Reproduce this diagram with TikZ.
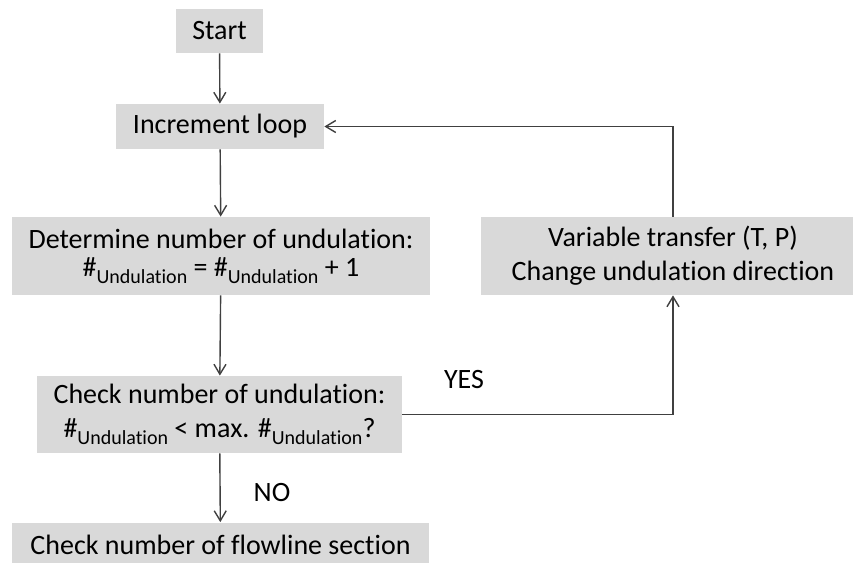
\documentclass[tikz,border=0pt]{standalone}
\usepackage{fontspec}
\setmainfont{Carlito}[Ligatures=NoCommon]
\usetikzlibrary{arrows.meta}
\definecolor{boxgray}{HTML}{D9D9D9}
\definecolor{linegray}{HTML}{404040}
\newcommand{\undsub}{\raisebox{-3.5pt}{\fontsize{10}{10}\selectfont Undulation}}
\tikzset{
  box/.style={fill=boxgray, inner sep=0pt, align=center, font=\fontsize{14}{17}\selectfont},
  line/.style={draw=linegray, line width=0.7pt},
  arr/.style={line, -{Straight Barb[length=5pt,width=6pt]}}
}
\begin{document}
\begin{tikzpicture}[x=0.5pt,y=-0.5pt]
\useasboundingbox (0,0) rectangle (853,563);
% boxes
\node[box, minimum width=43.5pt, minimum height=22pt] (start) at (219.5,31) {Start};
\node[box, minimum width=104pt, minimum height=22.5pt] (incr) at (220,126.5) {Increment loop};
\node[box, minimum width=209pt, minimum height=39pt, font=\fontsize{14}{14}\selectfont] (det) at (221,256)
  {Determine number of undulation:\\ \#\undsub{} = \#\undsub{}  + 1};
\node[box, minimum width=182.5pt, minimum height=38.5pt] (check) at (219.5,414.5)
  {Check number of undulation:\\ \#\undsub{} < max. \#\undsub?};
\node[box, minimum width=208.5pt, minimum height=22.5pt] (flow) at (220.5,545) {Check number of flowline section};
\node[box, minimum width=192pt, minimum height=39pt] (var) at (673,256)
  {Variable transfer (T, P)\\ Change undulation direction};
% connectors
\draw[arr] (start) -- (incr);
\draw[arr] (incr) -- (det);
\draw[arr] (det) -- (check);
\draw[arr] (check) -- (flow);
\draw[arr] (check.east) -| (var.south);
\draw[arr] (var.north) |- (incr.east);
% labels
\node[font=\fontsize{14}{17}\selectfont] (yes) at (464,380) {YES};
\node[font=\fontsize{14}{17}\selectfont] (no) at (272,493) {NO};
\end{tikzpicture}
\end{document}
